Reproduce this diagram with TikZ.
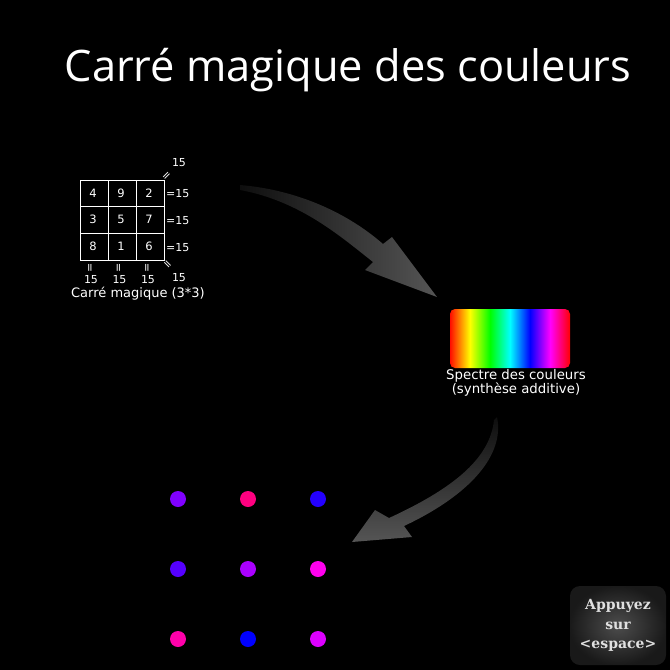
\documentclass[tikz,border=0pt]{standalone}
\usepackage{fontspec}
\setmainfont{DejaVu Sans}
\newfontfamily\titlefont{Open Sans}
\newfontfamily\keyfont{DejaVu Serif}

% teinte de chaque nombre du carre
\definecolor{teinte1}{HTML}{0000FF}
\definecolor{teinte2}{HTML}{2400FF}
\definecolor{teinte3}{HTML}{5500FF}
\definecolor{teinte4}{HTML}{8000FF}
\definecolor{teinte5}{HTML}{AA00FF}
\definecolor{teinte6}{HTML}{DD00FF}
\definecolor{teinte7}{HTML}{FF00EE}
\definecolor{teinte8}{HTML}{FF00AA}
\definecolor{teinte9}{HTML}{FF0080}
\definecolor{flecheclair}{HTML}{555555}
\definecolor{flechesombre}{HTML}{0E0E0E}

\pgfdeclarehorizontalshading{spectre}{100bp}{color(0bp)=(red); color(25bp)=(red!90!orange);
  color(33.3bp)=(yellow); color(41.7bp)=(green); color(50bp)=(cyan); color(58.3bp)=(blue);
  color(66.7bp)=(magenta); color(75bp)=(red); color(100bp)=(red)}

\begin{document}
\begin{tikzpicture}[x=1pt, y=-1pt,
    chiffre/.style={white, font=\fontsize{11.5}{11.5}\selectfont, inner sep=0pt},
    somme/.style={white, font=\fontsize{11}{11}\selectfont, inner sep=0pt},
    fleche/.style={draw=none}]
    % Fond
    \fill[black] (0,0) rectangle (670,670);
    \useasboundingbox (0,0) rectangle (670,670);

    % Titre
    \node[white, font=\titlefont\fontsize{43.4}{43.4}\selectfont] (titre) at (348,70) {Carré magique des couleurs};

    % Carre magique
    \draw[white, line width=0.8pt] (80,180) rectangle (164,260);
    \foreach \i in {1,2} {
        \draw[white, line width=0.8pt] ({80+28*\i},180) -- ({80+28*\i},260);
        \draw[white, line width=0.8pt] (80,{180+26.67*\i}) -- (164,{180+26.67*\i});
    }
    \foreach \n [count=\k from 0] in {4,9,2,3,5,7,8,1,6} {
        \pgfmathtruncatemacro\c{mod(\k,3)}
        \pgfmathtruncatemacro\r{div(\k,3)}
        \node[chiffre] (case-\n) at ({93+28*\c},{193+26.67*\r}) {\n};
        % points de couleur
        \fill[teinte\n] ({178+70*\c},{499+70*\r}) circle (8);
    }

    % Sommes
    \foreach \r in {0,1,2}
        \node[somme, anchor=west] (ligne-\r) at (166,{194+26.67*\r}) {=15};
    \foreach \c in {0,1,2} {
        \node[somme, rotate=90] (egal-\c) at ({91+28.5*\c},268) {=};
        \node[somme] (colonne-\c) at ({91+28.5*\c},280) {15};
    }
    \node[somme, rotate=45] (egal-d1) at (167,176) {=};
    \node[somme] (diag-1) at (179,163) {15};
    \node[somme, rotate=-45] (egal-d2) at (167,265) {=};
    \node[somme] (diag-2) at (179,278) {15};
    \node[white, font=\fontsize{13}{13}\selectfont] (legende-carre) at (138,294) {Carré magique (3*3)};

    % Spectre
    \node[shade, shading=spectre, rounded corners=5pt, minimum width=120pt, minimum height=59pt, inner sep=0pt] (spectre) at (510,338.5) {};
    \node[white, align=center, font=\fontsize{13.3}{11}\selectfont] (legende-spectre) at (516,383) {Spectre des couleurs\\(synthèse additive)};

    % Fleches
    \shade[fleche, left color=flechesombre, right color=flecheclair]
        (240,185) .. controls (300,190) and (350,215) .. (383,244) -- (392,237) -- (437,297)
        -- (365,270) -- (373,262) .. controls (340,236) and (300,201) .. (240,190) -- cycle;
    \shade[fleche, top color=flechesombre, bottom color=flecheclair]
        (497,417) .. controls (505,455) and (470,495) .. (404,526) -- (412,537) -- (352,542)
        -- (375,510) -- (389,518) .. controls (450,490) and (490,460) .. (494,420) -- cycle;

    % Touche
    \node[rounded corners=10pt, minimum width=96pt, minimum height=79pt, shading=radial,
        inner color=black!70!white, outer color=black!90!white, align=center, text=black!12!white,
        font=\keyfont\bfseries\fontsize{14}{19.5}\selectfont] (touche) at (618,625.5) {Appuyez\\sur\\<espace>};
\end{tikzpicture}
\end{document}
